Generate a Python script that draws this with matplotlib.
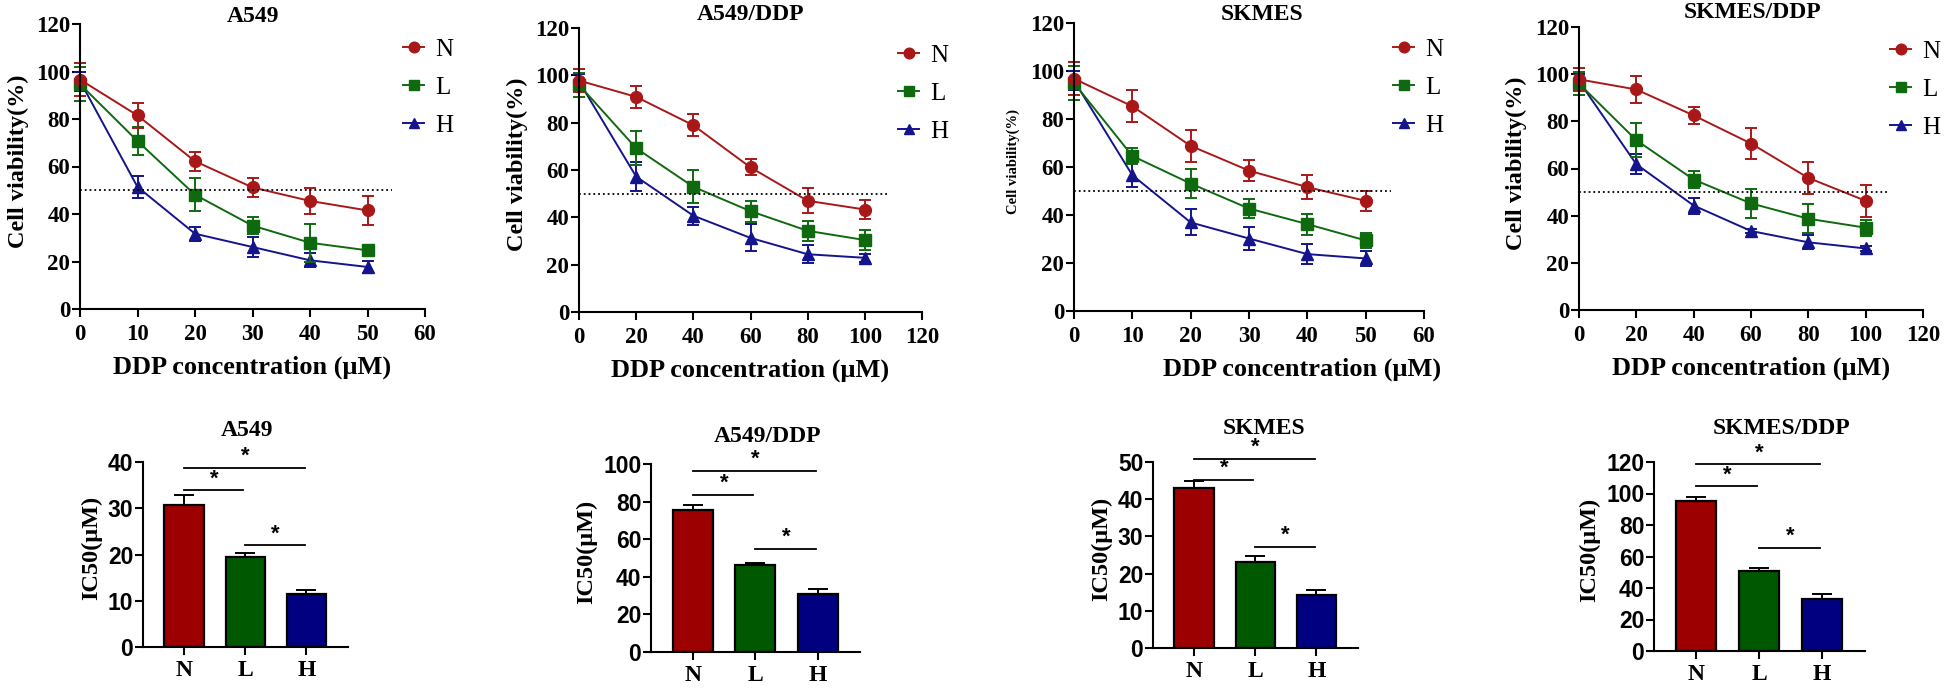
import numpy as np
import matplotlib
matplotlib.use('Agg')
import matplotlib.pyplot as plt

plt.rcParams['font.family'] = 'Liberation Serif'

# 数据：细胞活力曲线
x_a = [0, 10, 20, 30, 40, 50]
x_b = [0, 20, 40, 60, 80, 100]

a549_N = [96.6, 81.5, 62.2, 51.2, 45.5, 41.5]
a549_N_err = [7.0, 5.4, 4.0, 4.0, 5.5, 6.0]
a549_L = [94.7, 70.7, 48.1, 35.1, 27.9, 24.7]
a549_L_err = [7.0, 6.0, 7.0, 3.5, 8.0, 1.0]
a549_H = [96.0, 51.4, 31.7, 26.1, 20.5, 17.7]
a549_H_err = [4.0, 4.5, 3.0, 4.2, 3.0, 2.5]

a549ddp_N = [97.8, 90.9, 78.9, 61.1, 47.0, 43.3]
a549ddp_N_err = [5.0, 4.7, 4.7, 3.4, 5.2, 4.2]
a549ddp_L = [96.0, 69.2, 52.9, 42.6, 34.3, 30.4]
a549ddp_L_err = [5.0, 7.2, 7.0, 4.4, 4.2, 4.2]
a549ddp_H = [97.4, 57.2, 40.7, 31.3, 24.4, 22.9]
a549ddp_H_err = [3.0, 6.0, 3.8, 5.7, 3.8, 1.8]

skmes_N = [96.8, 85.3, 68.8, 58.5, 51.6, 45.9]
skmes_N_err = [7.0, 6.7, 6.8, 4.5, 4.9, 4.3]
skmes_L = [95.0, 64.6, 53.1, 42.7, 36.2, 29.4]
skmes_L_err = [7.0, 3.5, 5.9, 3.8, 4.4, 3.3]
skmes_H = [96.0, 56.6, 36.9, 30.2, 23.7, 21.9]
skmes_H_err = [4.0, 5.1, 5.4, 4.9, 4.2, 3.2]

skmesddp_N = [97.8, 93.5, 82.5, 70.6, 56.0, 46.3]
skmesddp_N_err = [5.0, 5.8, 3.6, 6.5, 6.8, 6.8]
skmesddp_L = [96.0, 72.0, 55.3, 45.2, 38.7, 34.9]
skmesddp_L_err = [5.0, 7.1, 3.7, 6.3, 6.2, 3.4]
skmesddp_H = [97.0, 61.8, 44.3, 33.5, 28.7, 26.1]
skmesddp_H_err = [3.0, 4.3, 3.4, 1.0, 2.9, 1.0]

# 数据：IC50 柱状图
groups = ['N', 'L', 'H']
ic50_a549 = [30.7, 19.5, 11.4]
ic50_a549_err = [2.2, 0.9, 0.9]
ic50_a549ddp = [75.7, 46.1, 31.0]
ic50_a549ddp_err = [2.5, 1.1, 2.5]
ic50_skmes = [43.0, 23.2, 14.2]
ic50_skmes_err = [1.9, 1.6, 1.5]
ic50_skmesddp = [95.0, 50.8, 33.2]
ic50_skmesddp_err = [2.8, 1.9, 3.2]

# 显著性标记的高度 (N-H, N-L, L-H)
sig_a549 = [38.8, 33.9, 22.0]
sig_a549ddp = [96.5, 83.5, 54.8]
sig_skmes = [50.9, 45.2, 27.2]
sig_skmesddp = [118.5, 104.6, 65.4]

line_colors = {'N': '#A81818', 'L': '#0F6A0F', 'H': '#14148C'}
bar_colors = ['#9C0000', '#005800', '#000080']
markers = {'N': 'o', 'L': 's', 'H': '^'}

W, H = 1944, 690
fig = plt.figure(figsize=(W / 100, H / 100), dpi=100)


def px_axes(l, t, r, b):
    return fig.add_axes([l / W, 1 - b / H, (r - l) / W, (b - t) / H])


def style_axes(ax):
    for s in ['top', 'right']:
        ax.spines[s].set_visible(False)
    for s in ['left', 'bottom']:
        ax.spines[s].set_linewidth(1.5)
    ax.tick_params(width=1.5, length=5.5, direction='out')


# 上排：细胞活力曲线
# (标题, x, x最大值, 坐标轴像素框, 数据, 标题中心, 图例左上角, y标签x, x标签x)
top_panels = [
    ('A549', x_a, 60, (80, 24, 425, 309),
     [(a549_N, a549_N_err), (a549_L, a549_L_err), (a549_H, a549_H_err)],
     (253, 16), (403, 38), -0.148, 0.5),
    ('A549/DDP', x_b, 120, (579, 28, 922, 312),
     [(a549ddp_N, a549ddp_N_err), (a549ddp_L, a549ddp_L_err), (a549ddp_H, a549ddp_H_err)],
     (751, 14), (898, 44), -0.149, 0.5),
    ('SKMES', x_a, 60, (1074, 23, 1424, 311),
     [(skmes_N, skmes_N_err), (skmes_L, skmes_L_err), (skmes_H, skmes_H_err)],
     (1262, 14), (1393, 38), -0.154, 0.651),
    ('SKMES/DDP', x_b, 120, (1579, 27, 1923, 310),
     [(skmesddp_N, skmesddp_N_err), (skmesddp_L, skmesddp_L_err), (skmesddp_H, skmesddp_H_err)],
     (1752, 13), (1890, 40), -0.151, 0.5),
]

for title, xs, xmax, box, series, tpos, lpos, ylx, xlx in top_panels:
    ax = px_axes(*box)
    style_axes(ax)
    handles = []
    for name, (vals, errs) in reversed(list(zip(groups, series))):
        c = line_colors[name]
        ax.errorbar(xs, vals, yerr=errs, fmt='none', ecolor=c, elinewidth=1.4,
                    capsize=4.2, capthick=1.4, clip_on=False)
        ln, = ax.plot(xs, vals, color=c, marker=markers[name], markersize=8.5,
                      linewidth=1.4, label=name, clip_on=False)
        handles.append(ln)
    ax.plot([0, xmax * 0.905], [50, 50], color='black', linestyle=':', linewidth=1.3)
    ax.set_xlim(0, xmax)
    ax.set_ylim(0, 120)
    ax.set_xticks(np.arange(0, xmax + 1, xmax // 6))
    ax.set_yticks(np.arange(0, 121, 20))
    ax.tick_params(axis='y', pad=1.5)
    ax.tick_params(axis='x', pad=5)
    for lab in ax.get_xticklabels() + ax.get_yticklabels():
        lab.set_fontsize(16.5)
        lab.set_fontweight('bold')
    fig.text(tpos[0] / W, 1 - tpos[1] / H, title, ha='center', va='center',
             fontsize=17, fontweight='bold')
    if title == 'SKMES':
        ax.set_ylabel('Cell viability(%)', fontsize=10.5, fontweight='bold')
    else:
        ax.set_ylabel('Cell viability(%)', fontsize=17.5, fontweight='bold')
    ax.set_xlabel('DDP concentration (μM)', fontsize=19, fontweight='bold')
    ax.yaxis.set_label_coords(ylx, 0.52)
    ax.xaxis.set_label_coords(xlx, -0.163)
    ax.legend(handles=handles[::-1], loc='upper left',
              bbox_to_anchor=(lpos[0] / W, 1 - lpos[1] / H), bbox_transform=fig.transFigure,
              frameon=False, fontsize=18, handlelength=0.85, handletextpad=0.45,
              labelspacing=0.62, borderaxespad=0, borderpad=0, markerscale=0.9)

# 下排：IC50 柱状图
# (标题, 数值, 误差, 显著性高度, y最大值, 步长, 坐标轴像素框, 标题中心, y标签x)
bottom_panels = [
    ('A549', ic50_a549, ic50_a549_err, sig_a549, 40, 10, (143, 462, 348, 647), (247, 431), -0.2),
    ('A549/DDP', ic50_a549ddp, ic50_a549ddp_err, sig_a549ddp, 100, 20, (651, 464, 860, 652), (768, 436), -0.258),
    ('SKMES', ic50_skmes, ic50_skmes_err, sig_skmes, 50, 10, (1153, 462, 1358, 648), (1264, 429), -0.2),
    ('SKMES/DDP', ic50_skmesddp, ic50_skmesddp_err, sig_skmesddp, 120, 20, (1654, 462, 1865, 651), (1781, 428), -0.256),
]

pos = np.arange(len(groups))
pairs = [(0, 2), (0, 1), (1, 2)]
for title, vals, errs, sig, ymax, step, box, tpos, ylx in bottom_panels:
    ax = px_axes(*box)
    style_axes(ax)
    ax.bar(pos, vals, width=0.64, color=bar_colors, edgecolor='black', linewidth=1.6, zorder=2)
    ax.errorbar(pos, vals, yerr=[np.zeros(3), errs], fmt='none', ecolor='black',
                elinewidth=1.4, capsize=7, capthick=1.4, zorder=1)
    ax.set_xlim(-0.67, 2.68)
    ax.set_ylim(0, ymax)
    ax.set_xticks(pos)
    ax.set_xticklabels(groups, fontsize=17, fontweight='bold')
    ax.set_yticks(np.arange(0, ymax + 1, step))
    ax.tick_params(axis='y', pad=1.5)
    ax.tick_params(axis='x', pad=4)
    for lab in ax.get_yticklabels():
        lab.set_family('Liberation Sans')
        lab.set_fontsize(16.5)
        lab.set_fontweight('bold')
    ax.set_ylabel('IC50(μM)', fontsize=17.5, fontweight='bold')
    ax.yaxis.set_label_coords(ylx, 0.535)
    # 显著性标记
    for (a, b), h in zip(pairs, sig):
        ax.plot([a, b - 0.03], [h, h], color='black', linewidth=1.3, clip_on=False)
        ax.text((a + b) / 2, h + ymax * 0.005, '*', ha='center', va='bottom',
                fontsize=16, fontweight='bold', family='Liberation Sans')
    fig.text(tpos[0] / W, 1 - tpos[1] / H, title, ha='center', va='center',
             fontsize=17, fontweight='bold')

plt.savefig('out.png', dpi=100)
